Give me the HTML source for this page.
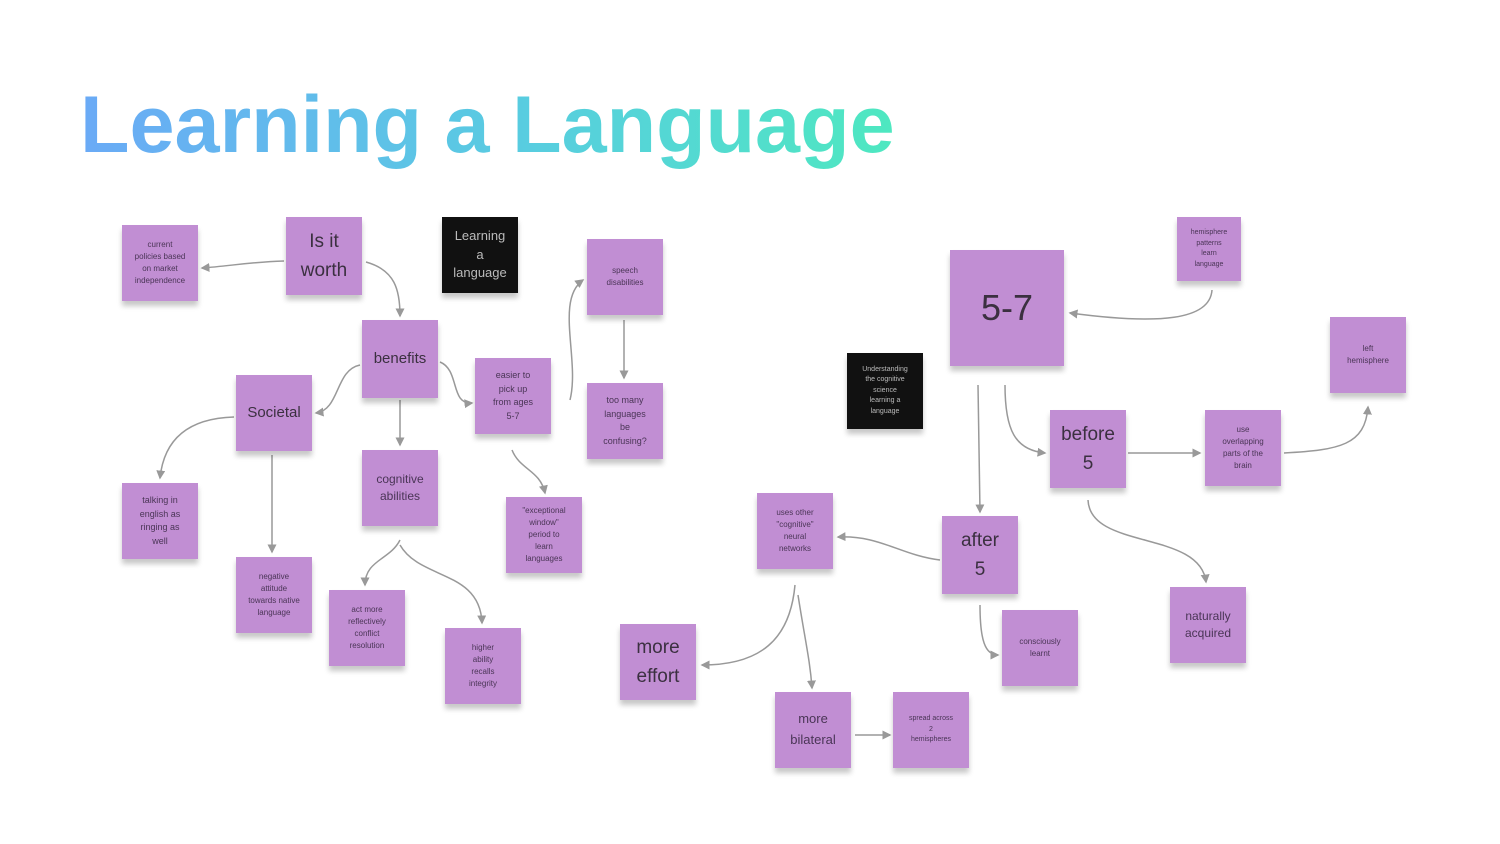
<!DOCTYPE html>
<html><head><meta charset="utf-8"><style>
body{margin:0;width:1500px;height:844px;background:#fff;position:relative;overflow:hidden;font-family:"Liberation Sans",sans-serif}
h1{position:absolute;left:80px;top:79px;margin:0;font-size:81px;font-weight:bold;letter-spacing:0;background:linear-gradient(90deg,#6aaaf6,#58cde0 55%,#4ee8c0);-webkit-background-clip:text;background-clip:text;color:transparent;white-space:nowrap}
.n{position:absolute;background:#c18ed3;box-shadow:0 5px 5px rgba(0,0,0,.22);display:flex;align-items:center;justify-content:center;text-align:center;color:#4a3556;font-size:8px;line-height:1.5;padding:4px;box-sizing:border-box}
.b{background:#111;color:#bbb}
.l{font-size:19px;line-height:1.55;color:#3b3040}
svg{position:absolute;left:0;top:0}
</style></head><body>
<h1>Learning a Language</h1>
<svg width="1500" height="844" fill="none" stroke="#999" stroke-width="1.5">
<defs><marker id="a" markerWidth="6" markerHeight="6" refX="5" refY="3" orient="auto"><path d="M0,0L6,3L0,6z" fill="#999" stroke="none"/></marker></defs>
<g marker-end="url(#a)">
<path d="M284,261 C250,262 230,266 202,268"/>
<path d="M366,262 C395,270 400,290 400,316"/>
<path d="M360,365 C335,370 340,410 316,413"/>
<path d="M440,362 C460,370 450,405 472,403"/>
<path d="M570,400 C580,360 555,300 583,280"/>
<path d="M624,320 L624,378"/>
<path d="M400,400 L400,445"/>
<path d="M234,417 C200,418 165,430 160,478"/>
<path d="M272,455 L272,552"/>
<path d="M512,450 C520,470 540,470 545,493"/>
<path d="M400,540 C390,560 365,560 365,585"/>
<path d="M400,545 C420,580 480,570 482,623"/>
<path d="M1212,290 C1210,320 1160,325 1070,313"/>
<path d="M978,385 L980,512"/>
<path d="M1005,385 C1005,430 1015,450 1045,453"/>
<path d="M1128,453 L1200,453"/>
<path d="M1284,453 C1340,450 1365,445 1368,407"/>
<path d="M1088,500 C1090,550 1200,530 1206,582"/>
<path d="M940,560 C900,555 880,535 838,537"/>
<path d="M980,605 C980,640 985,655 998,655"/>
<path d="M795,585 C790,640 760,665 702,665"/>
<path d="M798,595 C805,640 810,660 812,688"/>
<path d="M855,735 L890,735"/>
</g></svg>
<div class="n" style="left:122px;top:225px;width:76px;height:76px">current<br>policies based<br>on market<br>independence</div>
<div class="n l" style="left:286px;top:217px;width:76px;height:78px">Is it<br>worth</div>
<div class="n b" style="left:442px;top:217px;width:76px;height:76px;font-size:13px;line-height:1.45">Learning<br>a<br>language</div>
<div class="n" style="left:587px;top:239px;width:76px;height:76px">speech<br>disabilities</div>
<div class="n l" style="left:362px;top:320px;width:76px;height:78px;font-size:15px">benefits</div>
<div class="n" style="left:475px;top:358px;width:76px;height:76px;font-size:9px">easier to<br>pick up<br>from ages<br>5-7</div>
<div class="n" style="left:587px;top:383px;width:76px;height:76px;font-size:9px">too many<br>languages<br>be<br>confusing?</div>
<div class="n l" style="left:236px;top:375px;width:76px;height:76px;font-size:15px">Societal</div>
<div class="n" style="left:362px;top:450px;width:76px;height:76px;font-size:12px;line-height:1.4">cognitive<br>abilities</div>
<div class="n" style="left:122px;top:483px;width:76px;height:76px;font-size:9px">talking in<br>english as<br>ringing as<br>well</div>
<div class="n" style="left:506px;top:497px;width:76px;height:76px">"exceptional<br>window"<br>period to<br>learn<br>languages</div>
<div class="n" style="left:236px;top:557px;width:76px;height:76px">negative<br>attitude<br>towards native<br>language</div>
<div class="n" style="left:329px;top:590px;width:76px;height:76px">act more<br>reflectively<br>conflict<br>resolution</div>
<div class="n" style="left:445px;top:628px;width:76px;height:76px">higher<br>ability<br>recalls<br>integrity</div>
<div class="n" style="left:950px;top:250px;width:114px;height:116px;font-size:36px;color:#3b3040">5-7</div>
<div class="n" style="left:1177px;top:217px;width:64px;height:64px;font-size:7px">hemisphere<br>patterns<br>learn<br>language</div>
<div class="n b" style="left:847px;top:353px;width:76px;height:76px;font-size:7px">Understanding<br>the cognitive<br>science<br>learning a<br>language</div>
<div class="n" style="left:1330px;top:317px;width:76px;height:76px">left<br>hemisphere</div>
<div class="n l" style="left:1050px;top:410px;width:76px;height:78px">before<br>5</div>
<div class="n" style="left:1205px;top:410px;width:76px;height:76px">use<br>overlapping<br>parts of the<br>brain</div>
<div class="n" style="left:757px;top:493px;width:76px;height:76px">uses other<br>"cognitive"<br>neural<br>networks</div>
<div class="n l" style="left:942px;top:516px;width:76px;height:78px">after<br>5</div>
<div class="n" style="left:1002px;top:610px;width:76px;height:76px">consciously<br>learnt</div>
<div class="n" style="left:1170px;top:587px;width:76px;height:76px;font-size:12px;line-height:1.4">naturally<br>acquired</div>
<div class="n l" style="left:620px;top:624px;width:76px;height:76px">more<br>effort</div>
<div class="n" style="left:775px;top:692px;width:76px;height:76px;font-size:13px;line-height:1.6">more<br>bilateral</div>
<div class="n" style="left:893px;top:692px;width:76px;height:76px;font-size:7px">spread across<br>2<br>hemispheres</div>
</body></html>
